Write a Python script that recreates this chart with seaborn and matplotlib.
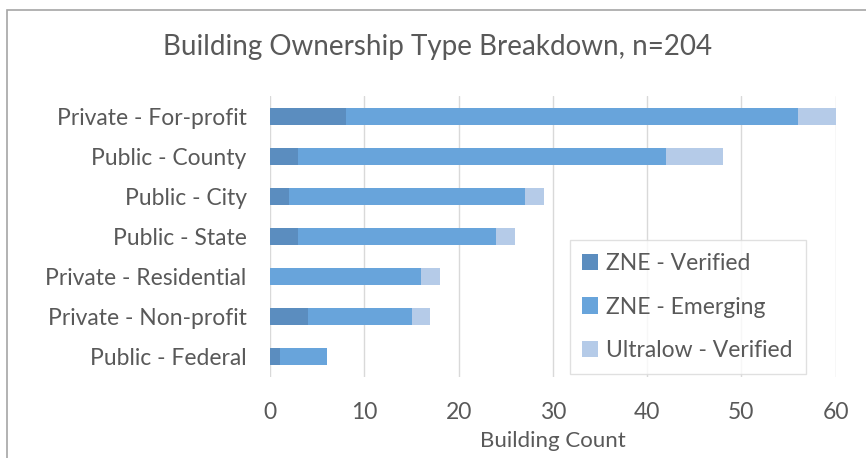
import pandas as pd
import numpy as np
import matplotlib.pyplot as plt
import seaborn as sns
from matplotlib.patches import Patch, Rectangle

# -----------------------------
# DATA
# -----------------------------
categories = ["Private - For-profit", "Public - County", "Public - City", "Public - State",
              "Private - Residential", "Private - Non-profit", "Public - Federal"]
zne_verified = [8, 3, 2, 3, 0, 4, 1]
zne_emerging = [48, 39, 25, 21, 16, 11, 5]
ultralow_verified = [4, 6, 2, 2, 2, 2, 0]
series_names = ["ZNE - Verified", "ZNE - Emerging", "Ultralow - Verified"]
colors = ["#5B8DBF", "#68A4DB", "#B5CBE8"]
text_color = "#595959"

df = pd.DataFrame({
    "category": categories,
    "v": zne_verified,
    "e": zne_emerging,
    "u": ultralow_verified,
})
df["ve"] = df["v"] + df["e"]
df["total"] = df["ve"] + df["u"]

# -----------------------------
# PLOT
# -----------------------------
sns.set_style("white")
plt.rcParams["font.family"] = ["Lato", "DejaVu Sans"]

fig = plt.figure(figsize=(8.66, 4.58), dpi=100)
ax = fig.add_axes([0.312, 0.177, 0.653, 0.613])

# stacked bars by overlaying cumulative totals
for col, c in zip(["total", "ve", "v"], colors[::-1]):
    sns.barplot(data=df, x=col, y="category", order=categories, color=c,
                width=0.42, ax=ax, saturation=1, linewidth=0)

ax.set_xlim(0, 60)
ax.set_xticks(range(0, 61, 10))
ax.set_ylim(6.5, -0.5)
ax.grid(axis="x", color="#D9D9D9", linewidth=1)
ax.set_axisbelow(True)
for s in ax.spines.values():
    s.set_visible(False)
ax.tick_params(axis="both", length=0, labelsize=16.5, colors=text_color)
ax.tick_params(axis="y", pad=17)
ax.tick_params(axis="x", pad=18)
ax.set_ylabel("")
ax.set_xlabel("Building Count", fontsize=16, color=text_color, labelpad=6)

fig.text(0.505, 0.897, "Building Ownership Type Breakdown, n=204", ha="center", va="center",
         fontsize=20, color=text_color)

handles = [Patch(facecolor=c, edgecolor="none") for c in colors]
leg = fig.legend(handles, series_names, loc="upper left", bbox_to_anchor=(0.658, 0.476),
                 fontsize=16.5, frameon=True, fancybox=False, edgecolor="#D9D9D9",
                 handlelength=0.7, handleheight=0.7, handletextpad=0.35,
                 labelspacing=1.0, borderpad=0.55, borderaxespad=0)
for t in leg.get_texts():
    t.set_color(text_color)
leg.get_frame().set_linewidth(1)

# chart border
fig.patches.append(Rectangle((0.008, -0.1), 1.2, 1.078, transform=fig.transFigure,
                             fill=False, edgecolor="#A6A6A6", linewidth=1.2))

plt.savefig("out.png", dpi=100)
plt.close()
